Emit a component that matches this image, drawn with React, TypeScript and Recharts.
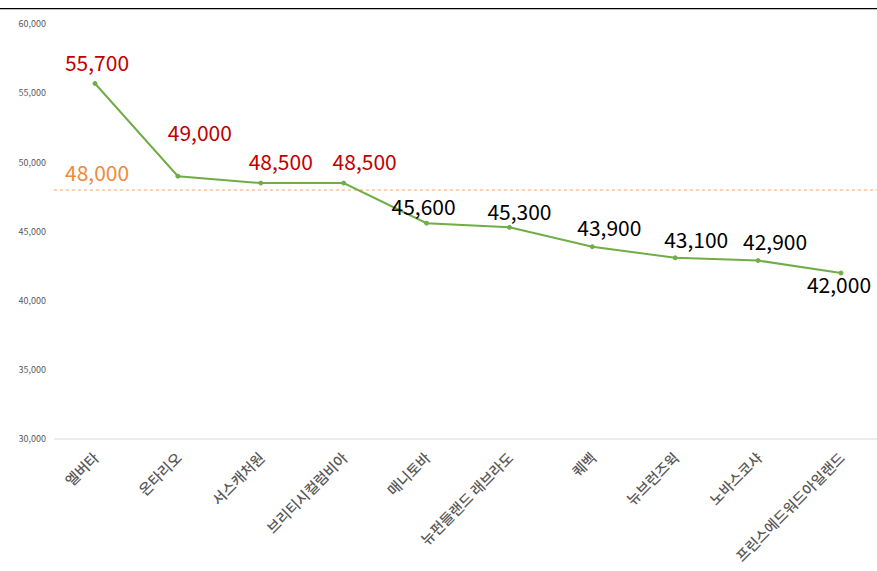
import React from "react";
import { LineChart, Line, XAxis, YAxis, ReferenceLine, LabelList } from "recharts";

// 주별 평균 연봉 (CAD)
const provinces = [
  "엘버타",
  "온타리오",
  "서스캐처원",
  "브리티시컬럼비아",
  "매니토바",
  "뉴펀들랜드 래브라도",
  "퀘벡",
  "뉴브런즈윅",
  "노바스코샤",
  "프린스에드워드아일랜드",
];
const salaries = [55700, 49000, 48500, 48500, 45600, 45300, 43900, 43100, 42900, 42000];
const yTicks = [30000, 35000, 40000, 45000, 50000, 55000, 60000];
const average = 48000;

// hand-placed label nudges (like the original sheet), relative to each point
const labelNudge: [number, number][] = [
  [2, -19], [22, -42], [20, -20], [21, -20], [-3, -15],
  [10, -14], [17, -18], [21, -17], [17, -18], [-2, 13],
];

const data = provinces.map((name, i) => ({ name, value: salaries[i] }));
const fmt = (v: number) => v.toLocaleString("en-US");
const FONT = "'Noto Sans CJK KR', 'Noto Sans', sans-serif";

const CategoryTick = (props: any) => {
  const { x, y, payload } = props;
  return (
    <g transform={`translate(${x + 5},${y + 12})`}>
      <text
        transform="rotate(-45)"
        textAnchor="end"
        fontSize={14.5}
        fontWeight={500}
        fill="#595959"
        fontFamily={FONT}
      >
        {payload.value}
      </text>
    </g>
  );
};

const ValueLabel = (props: any) => {
  const { x, y, value, index } = props;
  const [dx, dy] = labelNudge[index] || [0, -15];
  return (
    <text
      x={x + dx}
      y={y + dy + 7}
      textAnchor="middle"
      fontSize={21}
      fill={value > average ? "#c00000" : "#000000"}
      fontFamily={FONT}
    >
      {fmt(value)}
    </text>
  );
};

export default function App() {
  return (
    <div
      style={{
        position: "absolute",
        left: 0,
        top: 0,
        width: 877,
        height: 571,
        overflow: "hidden",
        background: "#fff",
      }}
    >
      <div
        style={{
          position: "absolute",
          left: 0,
          top: 8,
          width: 877,
          height: 0,
          borderTop: "1px solid #000",
          borderBottom: "1px solid #bdbdbd",
        }}
      />
      <LineChart
        width={882}
        height={571}
        data={data}
        margin={{ top: 24, right: 0, bottom: 0, left: 0 }}
      >
        <XAxis
          dataKey="name"
          interval={0}
          height={132}
          padding={{ left: 41, right: 41 }}
          axisLine={{ stroke: "#d9d9d9" }}
          tickLine={false}
          tick={<CategoryTick />}
        />
        <YAxis
          width={54}
          domain={[30000, 60000]}
          ticks={yTicks}
          axisLine={false}
          tickLine={false}
          tickFormatter={fmt}
          tick={{ fontSize: 9, fill: "#595959", fontFamily: FONT }}
        />
        <ReferenceLine
          y={average}
          stroke="#f4a46a"
          strokeDasharray="3 3"
          label={{
            value: fmt(average),
            position: "insideTopLeft",
            dx: 6,
            dy: -29,
            fill: "#f08a3c",
            fontSize: 21,
            fontFamily: FONT,
          }}
        />
        <Line
          type="linear"
          dataKey="value"
          stroke="#70ad47"
          strokeWidth={2}
          dot={{ r: 2, fill: "#70ad47", stroke: "#70ad47", strokeWidth: 1 }}
          isAnimationActive={false}
        >
          <LabelList dataKey="value" content={<ValueLabel />} />
        </Line>
      </LineChart>
    </div>
  );
}
